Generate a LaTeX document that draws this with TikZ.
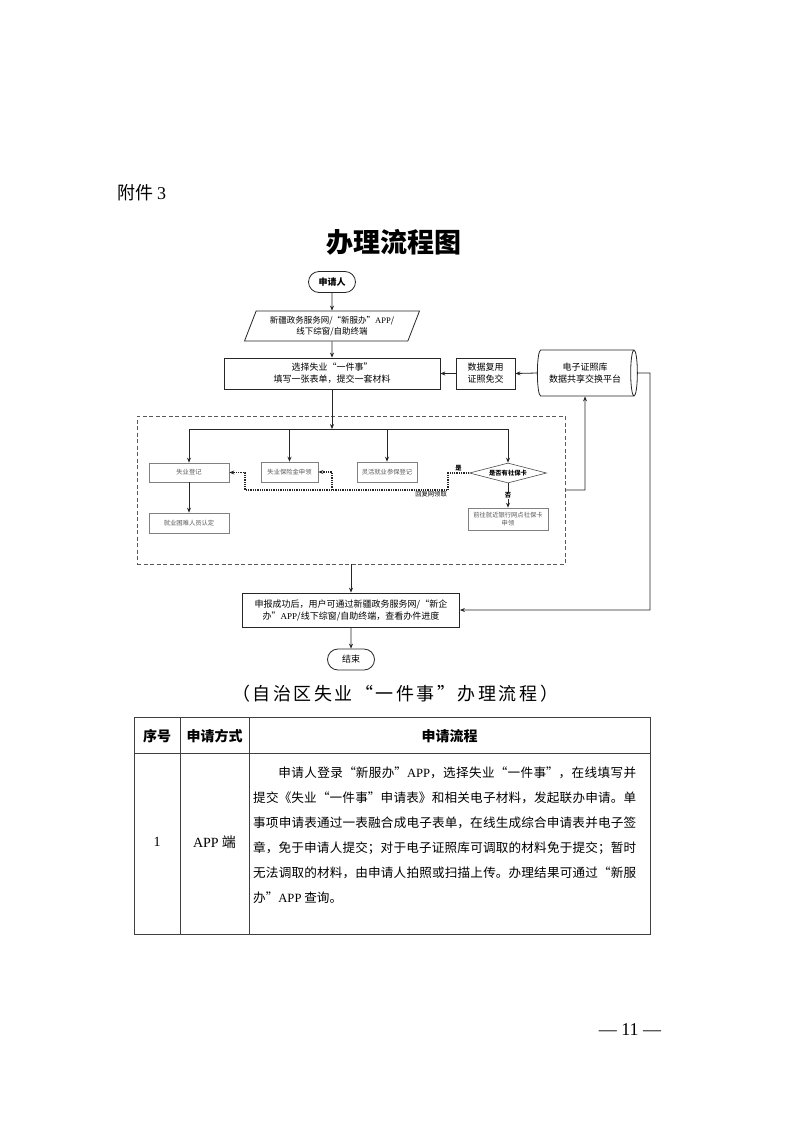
\documentclass[tikz,border=0pt]{standalone}
\usepackage{fontspec}
\setmainfont{Liberation Serif}
\newfontfamily\cjk{Noto Sans CJK SC}
\usetikzlibrary{shapes.geometric,shapes.misc,arrows.meta}
\XeTeXlinebreaklocale "zh"
\XeTeXlinebreakskip=0pt plus 4pt
\begin{document}
\begin{tikzpicture}[x=1pt,y=-1pt,
  mainbox/.style={draw=black!85,line width=0.8pt,align=center,inner sep=1pt,font=\cjk\fontsize{9}{12}\selectfont},
  term/.style={draw=black!85,line width=0.8pt,rounded rectangle,minimum width=49pt,minimum height=21pt,inner sep=1pt,font=\cjk\bfseries\fontsize{9}{11}\selectfont},
  smallbox/.style={draw=black!50,line width=0.6pt,align=center,inner sep=1pt,text=black!65,font=\cjk\fontsize{6.3}{8}\selectfont},
  arr/.style={draw=black!85,line width=0.8pt,-{Stealth[length=5pt,width=4pt]}},
  plain/.style={draw=black!85,line width=0.8pt},
  dotarr/.style={draw=black!85,line width=1.3pt,densely dotted,-{Stealth[length=5pt,width=4pt]}},
  lbl/.style={inner sep=1pt,font=\cjk\bfseries\fontsize{6.3}{8}\selectfont},
  tbl/.style={draw=black!75,line width=0.8pt},
  hdr/.style={font=\cjk\bfseries\fontsize{14}{16}\selectfont},
  cell/.style={font=\cjk\fontsize{14}{16}\selectfont}]
\fill[white] (0,0) rectangle (793,1122);
\useasboundingbox (0,0) rectangle (793,1122);

% heading
\node[anchor=west,inner sep=0pt,font=\cjk\fontsize{18}{20}\selectfont] (att) at (117,193) {附件 {\rmfamily 3}};
\node[inner sep=0pt,font=\cjk\bfseries\fontsize{27}{30}\selectfont] (title) at (394,242) {办理流程图};

% flow chart
\node[term] (start) at (332,282) {申请人};
\node[mainbox,trapezium,trapezium left angle=66,trapezium right angle=114,trapezium stretches=true,minimum width=175pt,minimum height=30pt,font=\cjk\fontsize{8.5}{11}\selectfont] (io) at (332,326) {新疆政务服务网/“新服办”{\rmfamily APP}/\\线下综窗/自助终端};
\node[mainbox,minimum width=216pt,minimum height=31pt] (sel) at (332,373.5) {选择失业“一件事”\\填写一张表单，提交一套材料};
\node[mainbox,minimum width=59pt,minimum height=31pt] (reuse) at (485.5,373.5) {数据复用\\证照免交};
\node[mainbox,cylinder,shape aspect=0.3,minimum width=46pt,minimum height=100pt] (db) at (585,373) {电子证照库\\数据共享交换平台};

\node[draw=black!65,dash pattern=on 4pt off 2.5pt,line width=0.9pt,minimum width=428pt,minimum height=148pt,inner sep=0pt] (dbox) at (351,490) {};

\node[smallbox,minimum width=80pt,minimum height=19pt] (b1) at (189,472.5) {失业登记};
\node[smallbox,minimum width=57pt,minimum height=20pt] (b2) at (289.5,472) {失业保险金申领};
\node[smallbox,minimum width=60pt,minimum height=20pt] (b3) at (387,472) {灵活就业参保登记};
\node[smallbox,draw=black!70,diamond,aspect=3.85,minimum width=77pt,minimum height=20pt,inner sep=0pt,text=black,font=\cjk\bfseries\fontsize{6.3}{8}\selectfont] (dia) at (508,473) {是否有社保卡};
\node[smallbox,minimum width=80pt,minimum height=20pt] (b5) at (189,523) {就业困难人员认定};
\node[smallbox,minimum width=80pt,minimum height=22pt] (b6) at (508,519) {前往就近银行网点社保卡\\申领};

\node[mainbox,minimum width=217pt,minimum height=34pt] (report) at (351,610) {申报成功后，用户可通过新疆政务服务网/“新企\\办”{\rmfamily APP}/线下综窗/自助终端，查看办件进度};
\node[term,font=\cjk\fontsize{9}{11}\selectfont] (end) at (351,659.5) {结束};

% connectors
\draw[arr] (start) -- (io);
\draw[arr] (io.south) -- (sel.north);
\draw[arr] (db.west) -- (reuse.east);
\draw[arr] (reuse) -- (sel);
\coordinate (j) at (332,429);
\coordinate (hl) at (189,429);
\coordinate (hr) at (508,429);
\draw[arr] (sel.south) -- (j);
\draw[plain] (hl) -- (hr);
\draw[arr] (hl) -- (b1.north);
\draw[arr] (b2.north |- hl) -- (b2.north);
\draw[arr] (b3.north |- hl) -- (b3.north);
\draw[arr] (hr) -- (dia.north);
\draw[arr] (b1) -- (b5);
\draw[arr] (dia.south) -- node[fill=white,lbl] {否} (b6.north);

\coordinate (d1) at (448,490);
\coordinate (d2) at (245,490);
\coordinate (d3) at (332,490);
\draw[dotarr] (dia.west) -- node[lbl,above] {是} (dia.west -| d1) -- (d1) -- (d2) |- (b1.east);
\draw[dotarr] (d3) |- (b2.east);
\node[lbl,anchor=north east,font=\cjk\fontsize{6.3}{8}\selectfont] (back) at (d1) {回复网领取};

\coordinate (r1) at (585,490);
\coordinate (r2) at (650,373);
\draw[arr] (dbox.east |- r1) -- (r1) -- (db.south);
\draw[arr] (db.east) -- (r2) |- (report.east);
\draw[arr] (dbox.south) -- (report.north);
\draw[arr] (report) -- (end);

% caption
\node[inner sep=0pt,font=\cjk\fontsize{18}{20}\selectfont] (cap) at (395,694) {\makebox[326pt]{（\hfill 自\hfill 治\hfill 区\hfill 失\hfill 业\hfill “\hfill 一\hfill 件\hfill 事\hfill ”\hfill 办\hfill 理\hfill 流\hfill 程\hfill ）}};

% table
\draw[tbl] (134,717) rectangle (650,934);
\draw[tbl] (180,717) -- (180,934);
\draw[tbl] (249,717) -- (249,934);
\draw[tbl] (134,753) -- (650,753);
\node[hdr] (h1) at (157,736) {序号};
\node[hdr] (h2) at (214.5,736) {申请方式};
\node[hdr] (h3) at (449.5,736) {申请流程};
\node[font=\rmfamily\fontsize{14}{16}\selectfont] (c1) at (157,842) {1};
\node[cell] (c2) at (214.5,842) {{\rmfamily APP} 端};
\node[anchor=north west,text width=383pt,align=justify,inner sep=0pt,font=\cjk\fontsize{12.6}{24.9}\selectfont] (body) at (253,767) {\hspace*{25.2pt}申请人登录“新服办”{\rmfamily APP}，选择失业“一件事”，在线填写并\break
提交《失业“一件事”申请表》和相关电子材料，发起联办申请。单\break
事项申请表通过一表融合成电子表单，在线生成综合申请表并电子签\break
章，免于申请人提交；对于电子证照库可调取的材料免于提交；暂时\break
无法调取的材料，由申请人拍照或扫描上传。办理结果可通过“新服\break
办”{\rmfamily APP} 查询。};

% page number
\node[font=\rmfamily\fontsize{18}{20}\selectfont] (pg) at (630,1030) {— 11 —};
\end{tikzpicture}
\end{document}
